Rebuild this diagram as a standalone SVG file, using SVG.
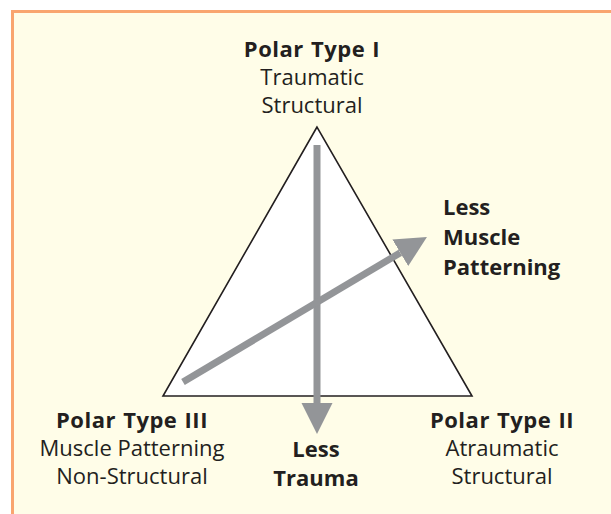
<svg xmlns="http://www.w3.org/2000/svg" width="611" height="514" viewBox="0 0 611 514">
<style>
text{font-family:"Open Sans","Noto Sans","Liberation Sans",sans-serif;font-size:22px;fill:#231f20}
.b{font-weight:bold}
.c{text-anchor:middle}
.pt{letter-spacing:0.5px;word-spacing:1px}
.arr{stroke:#939598;stroke-width:7;fill:none;marker-end:url(#ah)}
</style>
<defs>
<marker id="ah" markerUnits="userSpaceOnUse" markerWidth="32" markerHeight="32" refX="0" refY="15.5" orient="auto">
<path d="M0,0 L31,15.5 L0,31 Z" fill="#939598"/>
</marker>
</defs>
<rect x="0" y="0" width="611" height="514" fill="#ffffff"/>
<rect id="frame" x="12.5" y="11.5" width="700" height="600" fill="#fffde8" stroke="#f9a56f" stroke-width="3"/>
<g id="triangle">
<polygon points="317,127 163,396 472,396" fill="#ffffff" stroke="#231f20" stroke-width="1.6"/>
</g>
<g id="connectors">
<line class="arr" x1="317" y1="145" x2="317" y2="403"/>
<line class="arr" x1="183" y1="382" x2="400.3" y2="252.8"/>
</g>
<g id="type1">
<text class="b c pt" x="312" y="57">Polar Type I</text>
<text class="c" x="312" y="85">Traumatic</text>
<text class="c" x="312" y="113">Structural</text>
</g>
<g id="type3">
<text class="b c pt" x="132" y="428">Polar Type III</text>
<text class="c" x="132" y="456">Muscle Patterning</text>
<text class="c" x="132" y="484">Non-Structural</text>
</g>
<g id="type2">
<text class="b c pt" x="502" y="428">Polar Type II</text>
<text class="c" x="502" y="456">Atraumatic</text>
<text class="c" x="502" y="484">Structural</text>
</g>
<g id="lessTrauma">
<text class="b c" x="316" y="457">Less</text>
<text class="b c" x="316" y="486">Trauma</text>
</g>
<g id="lessMuscle">
<text class="b" x="443" y="215">Less</text>
<text class="b" x="443" y="245">Muscle</text>
<text class="b" x="443" y="275">Patterning</text>
</g>
</svg>
